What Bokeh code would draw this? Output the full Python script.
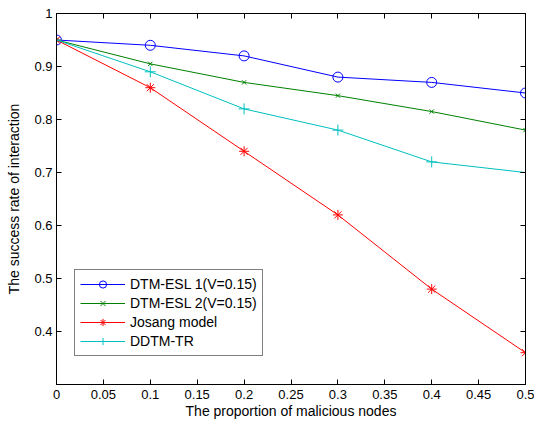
from bokeh.plotting import figure
from bokeh.models import LinearAxis, FixedTicker, Legend, LegendItem, Range1d
from bokeh.embed import file_html
from bokeh.resources import INLINE

x_vals = [0, 0.1, 0.2, 0.3, 0.4, 0.5]
esl1 = [0.95, 0.94, 0.92, 0.88, 0.87, 0.85]
esl2 = [0.95, 0.905, 0.87, 0.845, 0.815, 0.78]
josang = [0.95, 0.86, 0.74, 0.62, 0.48, 0.36]
ddtm = [0.95, 0.89, 0.82, 0.78, 0.72, 0.70]

x_ticks = [0, 0.05, 0.1, 0.15, 0.2, 0.25, 0.3, 0.35, 0.4, 0.45, 0.5]
x_labels = ["0", "0.05", "0.1", "0.15", "0.2", "0.25", "0.3", "0.35", "0.4", "0.45", "0.5"]
y_ticks = [0.3, 0.4, 0.5, 0.6, 0.7, 0.8, 0.9, 1.0]
y_labels = ["", "0.4", "0.5", "0.6", "0.7", "0.8", "0.9", "1"]

series_names = ["DTM-ESL 1(V=0.15)", "DTM-ESL 2(V=0.15)", "Josang model", "DDTM-TR"]
series_colors = ["#0000ff", "#008000", "#ff0000", "#00bfbf"]
series_markers = ["circle", "x", "asterisk", "cross"]
series_sizes = [10, 6, 10, 11]
series_data = [esl1, esl2, josang, ddtm]

FONT = "Liberation Sans"

p = figure(width=534, height=424, output_backend="svg", toolbar_location=None,
           x_range=Range1d(0, 0.5), y_range=Range1d(0.3, 1.0),
           min_border_left=56, min_border_right=9, min_border_top=13, min_border_bottom=40)
p.background_fill_color = "white"
p.border_fill_color = "white"
p.outline_line_color = "black"
p.outline_line_width = 1
p.xgrid.visible = False
p.ygrid.visible = False

def style_axis(ax, ticks, labels, show_labels=True):
    ax.ticker = FixedTicker(ticks=ticks)
    ax.major_label_overrides = dict(zip(ticks, labels))
    ax.major_tick_in = 5
    ax.major_tick_out = 0
    ax.minor_tick_in = 0
    ax.minor_tick_out = 0
    ax.axis_line_color = "black"
    ax.major_tick_line_color = "black"
    ax.major_label_text_font = FONT
    ax.major_label_text_font_size = "13px"
    ax.major_label_text_color = "black"
    ax.axis_label_text_font = FONT
    ax.axis_label_text_font_size = "14px"
    ax.axis_label_text_font_style = "normal"
    ax.axis_label_text_color = "black"
    if not show_labels:
        ax.major_label_text_font_size = "0px"
        ax.major_label_text_alpha = 0

style_axis(p.xaxis[0], x_ticks, x_labels)
style_axis(p.yaxis[0], y_ticks, y_labels)
p.xaxis[0].axis_label = "The proportion of malicious nodes"
p.yaxis[0].axis_label = "The success rate of interaction"
p.xaxis[0].major_label_standoff = 5
p.xaxis[0].axis_label_standoff = 1
p.yaxis[0].major_label_standoff = 4
p.yaxis[0].axis_label_standoff = 9

top_ax = LinearAxis()
style_axis(top_ax, x_ticks, [""] * len(x_ticks), show_labels=False)
top_ax.major_label_standoff = 0
right_ax = LinearAxis()
style_axis(right_ax, y_ticks, [""] * len(y_ticks), show_labels=False)
right_ax.major_label_standoff = 0
p.add_layout(top_ax, "above")
p.add_layout(right_ax, "right")

items = []
for name, color, marker, size, data in zip(series_names, series_colors, series_markers, series_sizes, series_data):
    ln = p.line(x_vals, data, line_color=color, line_width=1)
    sc = p.scatter(x_vals, data, marker=marker, size=size, line_color=color,
                   fill_color=None, line_width=1)
    items.append(LegendItem(label=name, renderers=[ln, sc]))

legend = Legend(items=items, location=(18, 28))
legend.border_line_color = "black"
legend.border_line_width = 1
legend.background_fill_color = "white"
legend.background_fill_alpha = 1
legend.label_text_font = FONT
legend.label_text_font_size = "14px"
legend.label_text_color = "black"
legend.glyph_width = 45
legend.glyph_height = 18
legend.label_height = 18
legend.label_standoff = 5
legend.spacing = 1
legend.padding = 5
legend.margin = 0
p.add_layout(legend, "center")

open("out.html", "w").write(file_html(p, INLINE))
